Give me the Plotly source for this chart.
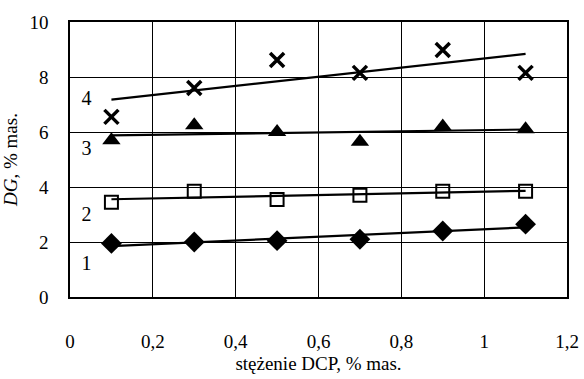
import numpy as np
import plotly.graph_objects as go

x = [0.1, 0.3, 0.5, 0.7, 0.9, 1.1]
s1 = [1.95, 2.0, 2.05, 2.1, 2.4, 2.65]
s2 = [3.45, 3.85, 3.55, 3.7, 3.85, 3.85]
s3 = [5.7, 6.25, 6.0, 5.65, 6.2, 6.1]
s4 = [6.55, 7.6, 8.62, 8.15, 8.98, 8.15]
labels = ["1", "2", "3", "4"]
label_y = [1.18, 2.95, 5.35, 7.15]
xticks = [0, 0.2, 0.4, 0.6, 0.8, 1.0, 1.2]
xticktext = ["0", "0,2", "0,4", "0,6", "0,8", "1", "1,2"]
yticks = [0, 2, 4, 6, 8, 10]

FONT = "Liberation Serif"
TF = dict(family=FONT, size=19, color="black")
fig = go.Figure()

series = [
    (s1, dict(symbol="diamond", size=16, color="black")),
    (s2, dict(symbol="square-open", size=13, color="black", line=dict(width=2, color="black"))),
    (s3, dict(symbol="triangle-up", size=16, color="black")),
    (s4, dict(symbol="x-thin-open", size=14, color="black", line=dict(width=3.5, color="black"))),
]
for ys, mk in series:
    k, b = np.polyfit(x, ys, 1)
    xe = [x[0], x[-1]]
    fig.add_trace(go.Scatter(x=xe, y=[k * v + b for v in xe], mode="lines",
                             line=dict(color="black", width=2.2), showlegend=False, hoverinfo="skip"))
    fig.add_trace(go.Scatter(x=x, y=ys, mode="markers", marker=mk, showlegend=False))

fig.add_trace(go.Scatter(x=[0.04] * 4, y=label_y, mode="text", text=labels,
                         textfont=dict(family=FONT, size=20, color="black"), showlegend=False))

fig.update_layout(
    width=584, height=379,
    margin=dict(l=70, r=17, t=22, b=82, autoexpand=False),
    paper_bgcolor="white", plot_bgcolor="white",
    font=TF,
    xaxis=dict(range=[0, 1.2], tickmode="array", tickvals=xticks, ticktext=xticktext,
               tickfont=TF,
               showgrid=True, gridcolor="black", gridwidth=1.3, automargin=False,
               showline=True, linecolor="black", linewidth=1.5, mirror=True,
               ticks="", ticklabelstandoff=26, zeroline=False,
               title=dict(text="stężenie DCP, % mas.", standoff=6, font=TF)),
    yaxis=dict(range=[0, 10], tickmode="array", tickvals=yticks,
               tickfont=TF,
               showgrid=True, gridcolor="black", gridwidth=1.3, automargin=False,
               showline=True, linecolor="black", linewidth=1.5, mirror=True,
               ticks="", ticklabelstandoff=16, zeroline=False,
               title=dict(text="<i>DG</i>, % mas.", standoff=10, font=TF)),
)

fig.write_html("out.html")
